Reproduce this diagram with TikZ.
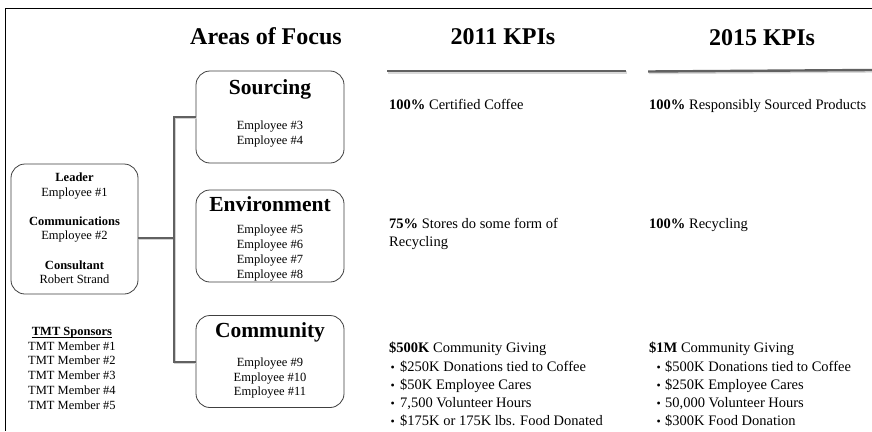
\documentclass[tikz,border=0pt]{standalone}
\usepackage{fontspec}
\setmainfont{Liberation Serif}
\begin{document}
\begin{tikzpicture}[x=1pt,y=-1pt,
  hdr/.style={font=\fontsize{24}{29}\selectfont\bfseries, inner sep=0pt, anchor=mid, yshift=-5pt},
  btitle/.style={font=\fontsize{21.5}{26}\selectfont\bfseries, inner sep=0pt, anchor=mid, yshift=-3.5pt},
  small/.style={font=\fontsize{12.5}{15}\selectfont, inner sep=0pt, anchor=mid, yshift=-2.5pt},
  smallw/.style={small, anchor=mid west},
  kpi/.style={font=\fontsize{14.5}{18}\selectfont, inner sep=0pt, anchor=mid west, yshift=-3pt},
  bul/.style={kpi, font=\fontsize{12}{18}\selectfont},
  focusbox/.style={draw=black!75, line width=0.8pt, rounded corners=14pt, minimum width=148pt, minimum height=92pt, inner sep=0pt},
  link/.style={draw=black!62, line width=2pt},
  linkshadow/.style={draw=black!18, line width=2pt},
  rulebar/.style={draw=black!62, line width=2.4pt},
  ruleshadow/.style={draw=black!15, line width=2.4pt}
]
\useasboundingbox (0,0) rectangle (872,431);
\fill[white] (0,0) rectangle (872,431);
% frame
\coordinate (fTL) at (5,8.5);
\coordinate (fTR) at (872,8.5);
\coordinate (fBL) at (5,431);
\draw[line width=1pt] (fTR) -- (fTL) -- (fBL);

% headers
\node[hdr] (hFocus) at (266,37) {Areas of Focus};
\node[hdr] (h2011) at (503,37) {2011 KPIs};
\node[hdr] (h2015) at (762,38) {2015 KPIs};

% rules under KPI headers
\coordinate (r1a) at (387,71); \coordinate (r1b) at (626,71);
\coordinate (r2a) at (648,71.5); \coordinate (r2b) at (872,70);
\draw[ruleshadow] ([shift={(0.8,1.5)}]r1a) -- ([shift={(0.8,1.5)}]r1b);
\draw[ruleshadow] ([shift={(0.8,1.5)}]r2a) -- ([shift={(0.8,1.5)}]r2b);
\draw[rulebar] (r1a) -- (r1b);
\draw[rulebar] (r2a) -- (r2b);

% leader box
\node[focusbox, minimum width=127pt, minimum height=130pt] (lead) at (74.5,229) {};
\node[small, font=\fontsize{12.5}{15}\selectfont\bfseries] (ldT) at (74.5,177) {Leader};
\node[small] (ldE) at (74.5,192) {Employee \#1};
\node[small, font=\fontsize{12.5}{15}\selectfont\bfseries] (cmT) at (74.5,221) {Communications};
\node[small] (cmE) at (74.5,235) {Employee \#2};
\node[small, font=\fontsize{12.5}{15}\selectfont\bfseries] (csT) at (74.5,265) {Consultant};
\node[small] (csE) at (74.5,279) {Robert Strand};

% focus boxes
\node[focusbox] (src) at (270,117) {};
\node[focusbox] (env) at (270,236) {};
\node[focusbox] (com) at (270,361.5) {};

\node[btitle] (srcT) at (270,89) {Sourcing};
\node[small] (srcE3) at (270,125) {Employee \#3};
\node[small] (srcE4) at (270,139.5) {Employee \#4};

\node[btitle] (envT) at (270,206) {Environment};
\node[small] (envE5) at (270,229) {Employee \#5};
\node[small] (envE6) at (270,244) {Employee \#6};
\node[small] (envE7) at (270,259) {Employee \#7};
\node[small] (envE8) at (270,274) {Employee \#8};

\node[btitle] (comT) at (270,332) {Community};
\node[small] (comE9) at (270,362) {Employee \#9};
\node[small] (comE10) at (270,377) {Employee \#10};
\node[small] (comE11) at (270,391) {Employee \#11};

% connectors
\coordinate (jn) at (174,238);
\draw[linkshadow] ([shift={(1,1.2)}]lead.east |- jn) -- ([shift={(1,1.2)}]jn);
\draw[linkshadow] ([shift={(1,1.2)}]src.west) -- ++(-22,0) |- ([shift={(0,1.2)}]com.west);
\draw[link] (lead.east |- jn) -- (jn);
\draw[link] (src.west) -- ++(-22,0) |- (com.west);

% TMT sponsors
\node[small, font=\fontsize{12.5}{15}\selectfont\bfseries] (tmtT) at (72,331) {TMT Sponsors};
\draw[line width=0.6pt] ([yshift=-1pt]tmtT.base west) -- ([yshift=-1pt]tmtT.base east);
\node[smallw] (tmt1) at (28,345.5) {TMT Member \#1};
\node[smallw] (tmt2) at (28,360) {TMT Member \#2};
\node[smallw] (tmt3) at (28,375) {TMT Member \#3};
\node[smallw] (tmt4) at (28,390) {TMT Member \#4};
\node[smallw] (tmt5) at (28,405) {TMT Member \#5};

% 2011 KPIs
\node[kpi] (a1) at (389,104) {\textbf{100\%} Certified Coffee};
\node[kpi] (a2) at (389,223) {\textbf{75\%} Stores do some form of};
\node[kpi] (a2b) at (389,241) {Recycling};
\node[kpi] (a3) at (389,347) {\textbf{\$500K} Community Giving};
\node[bul] (a3b1) at (390.5,366) {\textbullet};
\node[kpi] (a3t1) at (400,366) {\$250K Donations tied to Coffee};
\node[bul] (a3b2) at (390.5,384) {\textbullet};
\node[kpi] (a3t2) at (400,384) {\$50K Employee Cares};
\node[bul] (a3b3) at (390.5,402) {\textbullet};
\node[kpi] (a3t3) at (400,402) {7,500 Volunteer Hours};
\node[bul] (a3b4) at (390.5,420) {\textbullet};
\node[kpi] (a3t4) at (400,420) {\$175K or 175K lbs. Food Donated};

% 2015 KPIs
\node[kpi] (b1) at (649,104) {\textbf{100\%} Responsibly Sourced Products};
\node[kpi] (b2) at (649,223) {\textbf{100\%} Recycling};
\node[kpi] (b3) at (649,347) {\textbf{\$1M} Community Giving};
\node[bul] (b3b1) at (656.5,366) {\textbullet};
\node[kpi] (b3t1) at (665,366) {\$500K Donations tied to Coffee};
\node[bul] (b3b2) at (656.5,384) {\textbullet};
\node[kpi] (b3t2) at (665,384) {\$250K Employee Cares};
\node[bul] (b3b3) at (656.5,402) {\textbullet};
\node[kpi] (b3t3) at (665,402) {50,000 Volunteer Hours};
\node[bul] (b3b4) at (656.5,420) {\textbullet};
\node[kpi] (b3t4) at (665,420) {\$300K Food Donation};
\end{tikzpicture}
\end{document}
